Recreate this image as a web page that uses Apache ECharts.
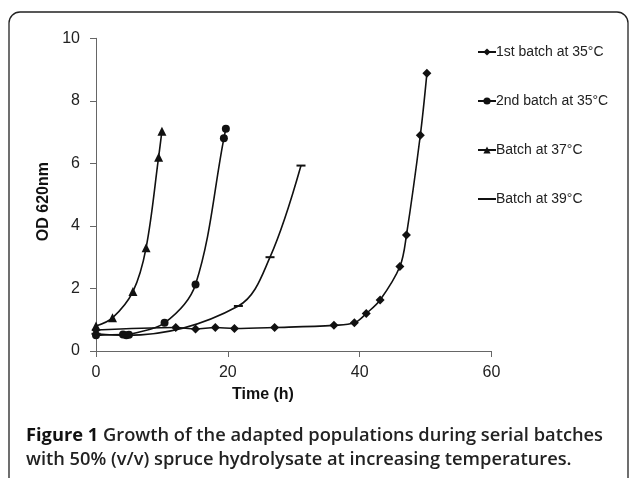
<!DOCTYPE html>
<html><head><meta charset="utf-8">
<script src="https://cdn.jsdelivr.net/npm/echarts@6/dist/echarts.min.js"></script>
<style>html,body{margin:0;padding:0;background:#fff}#c{width:629px;height:478px}</style>
</head><body><div id="c"></div>
<script>
const seriesNames = ['1st batch at 35°C', '2nd batch at 35°C', 'Batch at 37°C', 'Batch at 39°C'];
const batch1_35 = [[0,0.67],[12.1,0.75],[15.1,0.7],[18.1,0.75],[21,0.72],[27.1,0.75],[36.1,0.82],[39.2,0.9],[41,1.2],[43.1,1.63],[46.1,2.7],[47.1,3.71],[49.2,6.9],[50.2,8.88]];
const batch2_35 = [[0,0.5],[4.1,0.53],[4.6,0.5],[5,0.52],[10.4,0.9],[15.1,2.13],[19.4,6.8],[19.7,7.11]];
const batch37 = [[0,0.8],[2.5,1.06],[5.6,1.9],[7.6,3.3],[9.5,6.2],[10,7.03]];
const batch39 = [[0,0.55],[4.6,0.5],[21.6,1.44],[26.4,3.0],[31.1,5.93]];
const xTicks = [0,20,40,60];
const yTicks = [0,2,4,6,8,10];

const chart = echarts.init(document.getElementById('c'));
const font = 'Liberation Sans, Arial, sans-serif';
const dash = 'path://M0,0 H10 V2 H0 Z';
function s(name, data, symbol, size){
  return {name, type:'line', data, smooth:0.35, symbol, symbolSize:size,
    lineStyle:{color:'#111', width:1.6}, itemStyle:{color:'#111'}, z:3};
}
chart.setOption({
  animation:false,
  grid:{left:96, right:137.5, top:38.3, bottom:127, containLabel:false},
  xAxis:{type:'value', min:xTicks[0], max:xTicks[xTicks.length-1], interval:20,
    axisLine:{lineStyle:{color:'#666', width:1}}, axisTick:{show:true, length:6, lineStyle:{color:'#666'}},
    splitLine:{show:false}, axisLabel:{color:'#222', fontSize:16, fontFamily:font, margin:14}},
  yAxis:{type:'value', min:yTicks[0], max:yTicks[yTicks.length-1], interval:2,
    axisLine:{show:true, lineStyle:{color:'#666', width:1}}, axisTick:{show:true, length:6, lineStyle:{color:'#666'}},
    splitLine:{show:false}, axisLabel:{color:'#222', fontSize:16, fontFamily:font, margin:16}},
  legend:{orient:'vertical', left:472, top:40, itemGap:35, itemWidth:18, itemHeight:9,
    textStyle:{fontSize:14, fontFamily:font, color:'#222', padding:[0,0,0,-5]},
    data:[seriesNames[0], seriesNames[1], seriesNames[2], {name:seriesNames[3], itemStyle:{opacity:0}}]},
  series:[
    s(seriesNames[0], batch1_35, 'diamond', 9),
    s(seriesNames[1], batch2_35, 'circle', 8),
    s(seriesNames[2], batch37, 'triangle', 9),
    s(seriesNames[3], batch39, dash, [9,2])
  ],
  graphic:[
    {type:'rect', shape:{x:9, y:12, width:619, height:600, r:11}, style:{fill:'none', stroke:'#222', lineWidth:1.3}, silent:true},
    {type:'text', left:36, top:162, rotation:Math.PI/2, style:{text:'OD 620nm', font:'bold 16px '+font, fill:'#111'}},
    {type:'text', left:232, top:387, style:{text:'Time (h)', font:'bold 16px '+font, fill:'#111'}},
    {type:'text', left:26, top:424, style:{
      text:'{b|Figure 1} Growth of the adapted populations during serial batches\nwith 50% (v/v) spruce hydrolysate at increasing temperatures.',
      font:'600 18.3px "Open Sans", sans-serif', fill:'#222', lineHeight:24,
      rich:{b:{font:'bold 18.3px "Open Sans", sans-serif', fill:'#111'}}}}
  ]
});
</script></body></html>
